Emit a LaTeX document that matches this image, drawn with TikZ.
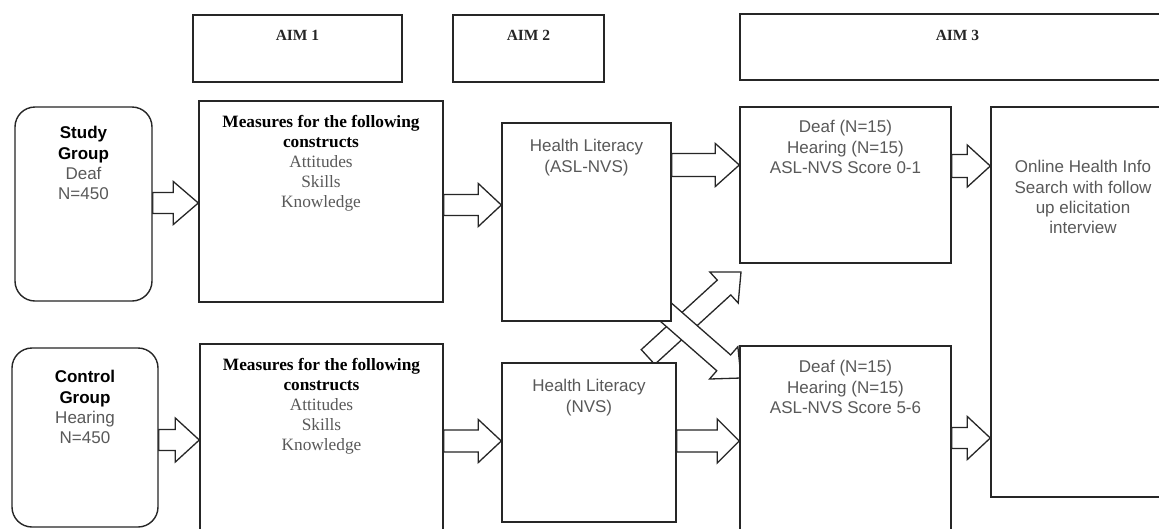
\documentclass[tikz,border=0pt]{standalone}
\usepackage{fontspec}
\setmainfont{Liberation Serif}
\setsansfont{Liberation Sans}
\usetikzlibrary{calc,backgrounds}
\newcommand{\blockarr}[5]{%
  \path (#1) coordinate (ba-a) (#2) coordinate (ba-b);
  \path ($(ba-b)!#5!(ba-a)$) coordinate (ba-h);
  \draw[barrow] ($(ba-a)!#3!90:(ba-b)$) -- ($(ba-h)!#3!90:(ba-b)$) -- ($(ba-h)!#4!90:(ba-b)$) -- (ba-b) -- ($(ba-h)!#4!-90:(ba-b)$) -- ($(ba-h)!#3!-90:(ba-b)$) -- ($(ba-a)!#3!-90:(ba-b)$) -- cycle;
}
\tikzset{
  box/.style={draw=black!85, line width=1.4pt, fill=white, rectangle, inner sep=0pt},
  rbox/.style={box, rounded corners=20pt},
  sanstxt/.style={font=\sffamily\fontsize{17}{20.3}\selectfont, text=black!65, align=center, inner sep=0pt, anchor=north},
  seriftxt/.style={font=\rmfamily\fontsize{17.3}{20}\selectfont, text=black!65, align=center, inner sep=0pt, anchor=north},
  aimtxt/.style={font=\rmfamily\bfseries\fontsize{15.5}{18}\selectfont, text=black!85, inner sep=0pt, anchor=north},
  barrow/.style={draw=black!85, line width=1.3pt, fill=white, line join=miter},
}
\begin{document}
\begin{tikzpicture}[x=1pt, y=-1pt]
\clip (0,0) rectangle (1159,528);
% boxes
\node[box, minimum width=209pt, minimum height=67pt] (aim1) at (297.5,48.5) {};
\node[box, minimum width=151pt, minimum height=67pt] (aim2) at (528.5,48.5) {};
\node[box, minimum width=435pt, minimum height=66pt] (aim3) at (957.5,47) {};
\node[rbox, minimum width=137pt, minimum height=194pt] (study) at (83.5,204) {};
\node[box, minimum width=244pt, minimum height=201pt] (meas1) at (321,201.5) {};
\node[box, minimum width=169pt, minimum height=198pt] (hl1) at (586.5,222) {};
\node[box, minimum width=211pt, minimum height=156pt] (deaf1) at (845.5,185) {};
\node[box, minimum width=184pt, minimum height=390pt] (online) at (1083,302) {};
\node[rbox, minimum width=146pt, minimum height=179pt] (control) at (85,437.5) {};
\node[box, minimum width=243pt, minimum height=196pt] (meas2) at (321.5,442) {};
\node[box, minimum width=174pt, minimum height=159pt] (hl2) at (589,442.5) {};
\node[box, minimum width=211pt, minimum height=194pt] (deaf2) at (845.5,443) {};
% texts
\node[aimtxt] (aim1t) at ($(aim1.north)+(0,16)$) {AIM 1};
\node[aimtxt] (aim2t) at ($(aim2.north)+(0,16)$) {AIM 2};
\node[aimtxt] (aim3t) at ($(aim3.north)+(0,17)$) {AIM 3};
\node[sanstxt] (studyt) at ($(study.north)+(0,20)$) {\textcolor{black}{\bfseries Study}\\\textcolor{black}{\bfseries Group}\\Deaf\\N=450};
\node[sanstxt] (controlt) at ($(control.north)+(0,23)$) {\textcolor{black}{\bfseries Control}\\\textcolor{black}{\bfseries Group}\\Hearing\\N=450};
\node[seriftxt] (meas1t) at ($(meas1.north)+(0,15)$) {\textcolor{black}{\bfseries Measures for the following}\\\textcolor{black}{\bfseries constructs}\\Attitudes\\Skills\\Knowledge};
\node[seriftxt] (meas2t) at ($(meas2.north)+(0,15)$) {\textcolor{black}{\bfseries Measures for the following}\\\textcolor{black}{\bfseries constructs}\\Attitudes\\Skills\\Knowledge};
\node[sanstxt] (hl1t) at ($(hl1.north)+(0,17)$) {Health Literacy\\(ASL-NVS)};
\node[sanstxt] (hl2t) at ($(hl2.north)+(0,17)$) {Health Literacy\\(NVS)};
\node[sanstxt] (deaf1t) at ($(deaf1.north)+(0,14)$) {Deaf (N=15)\\Hearing (N=15)\\ASL-NVS Score 0-1};
\node[sanstxt] (deaf2t) at ($(deaf2.north)+(0,15)$) {Deaf (N=15)\\Hearing (N=15)\\ASL-NVS Score 5-6};
\node[sanstxt] (onlinet) at ($(online.north)+(0,54)$) {Online Health Info\\Search with follow\\up elicitation\\interview};
% row coordinates
\coordinate (r1) at (0,203);
\coordinate (r2) at (0,205);
\coordinate (r3) at (0,165);
\coordinate (r4) at (0,166);
\coordinate (r5) at (0,440);
\coordinate (r6) at (0,441);
\coordinate (r7) at (0,441);
\coordinate (r8) at (0,438);
\coordinate (dut) at (648,357);
\coordinate (duh) at (741,272);
\coordinate (ddt) at (652,300);
\coordinate (ddh) at (741,378);
\begin{scope}[on background layer]
\fill[white] (0,0) rectangle (1159,528);
\blockarr{study.east |- r1}{meas1.west |- r1}{10.5pt}{21.5pt}{25pt}
\blockarr{meas1.east |- r2}{hl1.west |- r2}{10.5pt}{21.5pt}{23pt}
\blockarr{hl1.east |- r3}{deaf1.west |- r3}{11.5pt}{21.5pt}{24pt}
\blockarr{deaf1.east |- r4}{online.west |- r4}{11.5pt}{21pt}{23pt}
\blockarr{control.east |- r5}{meas2.west |- r5}{10.5pt}{22pt}{24pt}
\blockarr{meas2.east |- r6}{hl2.west |- r6}{11pt}{21.5pt}{23pt}
\blockarr{hl2.east |- r7}{deaf2.west |- r7}{11pt}{22pt}{22pt}
\blockarr{deaf2.east |- r8}{online.west |- r8}{10.5pt}{21.5pt}{23pt}
\blockarr{dut}{duh}{10pt}{21pt}{23pt}
\blockarr{ddt}{ddh}{10.5pt}{21.5pt}{23pt}
\end{scope}
\end{tikzpicture}
\end{document}
